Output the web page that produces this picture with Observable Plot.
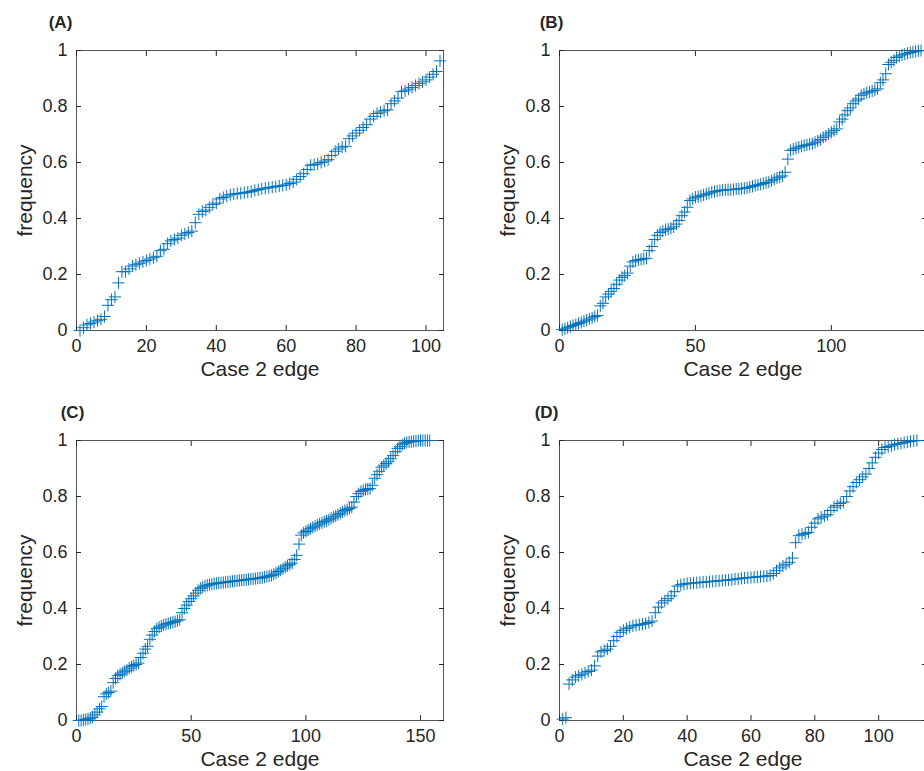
<!DOCTYPE html>
<html><head><meta charset="utf-8">
<script src="https://cdn.jsdelivr.net/npm/d3@7"></script>
<script src="https://cdn.jsdelivr.net/npm/@observablehq/plot@0.6"></script>
<style>
html,body{margin:0;padding:0;background:#fff;overflow:hidden;width:924px;height:771px;}
#root{position:relative;width:924px;height:771px;overflow:hidden;}
.panel{position:absolute;width:460px;height:380px;}
.panel svg{max-width:none !important;width:460px;height:380px;}
</style></head><body><div id="root"></div>
<script>
const panelLabels = ["(A)", "(B)", "(C)", "(D)"];
const xLabel = "Case 2 edge";
const yLabel = "frequency";
const yTicks = [0, 0.2, 0.4, 0.6, 0.8, 1];
const yTickLabels = ["0", "0.2", "0.4", "0.6", "0.8", "1"];
const xTicksA = [0, 20, 40, 60, 80, 100];
const xTicksB = [0, 50, 100];
const xTicksC = [0, 50, 100, 150];
const xTicksD = [0, 20, 40, 60, 80, 100];
const xMaxA = 105, xMaxB = 135, xMaxC = 160, xMaxD = 115;

// frequency for edge 1..N
const freqA = [0.00,0.01,0.02,0.025,0.03,0.035,0.04,0.05,0.09,0.11,
0.12,0.17,0.21,0.21,0.22,0.23,0.235,0.24,0.245,0.25,
0.255,0.26,0.265,0.285,0.29,0.31,0.32,0.325,0.33,0.34,
0.345,0.35,0.355,0.385,0.415,0.425,0.43,0.44,0.45,0.455,
0.47,0.475,0.48,0.485,0.487,0.489,0.49,0.492,0.494,0.496,
0.5,0.503,0.506,0.508,0.51,0.512,0.514,0.516,0.518,0.52,
0.525,0.53,0.54,0.55,0.56,0.575,0.59,0.592,0.595,0.6,
0.605,0.61,0.625,0.64,0.648,0.655,0.658,0.685,0.695,0.705,
0.715,0.725,0.735,0.755,0.765,0.775,0.78,0.785,0.788,0.81,
0.82,0.83,0.853,0.856,0.862,0.868,0.875,0.882,0.888,0.895,
0.905,0.915,0.925,0.963];

const freqB = [0.003,0.006,0.01,0.014,0.018,0.021,0.025,0.029,0.033,0.037,
0.041,0.045,0.05,0.054,0.088,0.097,0.12,0.13,0.14,0.15,
0.165,0.18,0.19,0.196,0.205,0.23,0.245,0.25,0.252,0.254,
0.256,0.258,0.285,0.3,0.325,0.34,0.35,0.355,0.36,0.362,
0.365,0.37,0.38,0.393,0.41,0.423,0.44,0.464,0.47,0.476,
0.478,0.481,0.484,0.487,0.49,0.494,0.496,0.498,0.5,0.501,
0.502,0.503,0.503,0.504,0.505,0.506,0.507,0.508,0.51,0.512,
0.515,0.518,0.52,0.522,0.525,0.528,0.53,0.535,0.54,0.545,
0.548,0.552,0.565,0.612,0.643,0.648,0.651,0.655,0.658,0.661,
0.663,0.665,0.667,0.672,0.677,0.682,0.69,0.695,0.702,0.708,
0.714,0.72,0.745,0.755,0.77,0.785,0.795,0.81,0.82,0.827,
0.84,0.845,0.849,0.852,0.855,0.858,0.863,0.885,0.895,0.917,
0.95,0.958,0.965,0.975,0.98,0.984,0.987,0.99,0.993,0.995,
0.997,0.999,1.0];

const freqC = [0.0,0.0,0.002,0.004,0.006,0.008,0.012,0.02,0.03,0.042,
0.05,0.085,0.095,0.1,0.105,0.135,0.15,0.16,0.165,0.17,
0.176,0.18,0.187,0.192,0.196,0.2,0.205,0.225,0.24,0.255,
0.265,0.29,0.305,0.318,0.328,0.333,0.337,0.341,0.344,0.346,
0.349,0.351,0.353,0.356,0.36,0.385,0.4,0.412,0.425,0.435,
0.445,0.455,0.465,0.472,0.476,0.48,0.483,0.485,0.487,0.489,
0.49,0.491,0.492,0.493,0.494,0.495,0.496,0.497,0.498,0.499,
0.5,0.501,0.502,0.503,0.504,0.505,0.506,0.507,0.508,0.509,
0.51,0.512,0.514,0.516,0.518,0.522,0.527,0.532,0.537,0.542,
0.548,0.553,0.558,0.562,0.575,0.59,0.63,0.662,0.67,0.675,
0.68,0.685,0.69,0.694,0.698,0.702,0.706,0.71,0.713,0.717,
0.722,0.727,0.73,0.735,0.74,0.745,0.75,0.753,0.757,0.762,
0.78,0.8,0.81,0.818,0.822,0.825,0.827,0.828,0.84,0.865,
0.878,0.89,0.905,0.912,0.918,0.924,0.935,0.946,0.96,0.972,
0.978,0.985,0.99,0.993,0.995,0.996,0.997,0.998,0.999,1,
1,1,1,1];

const freqD = [0.005,0.01,0.13,0.145,0.155,0.16,0.165,0.17,0.175,0.18,
0.195,0.23,0.245,0.25,0.255,0.265,0.285,0.3,0.315,0.322,
0.328,0.333,0.338,0.34,0.342,0.344,0.346,0.35,0.355,0.385,
0.405,0.42,0.428,0.435,0.445,0.46,0.48,0.485,0.487,0.489,
0.49,0.491,0.492,0.493,0.494,0.495,0.496,0.497,0.498,0.499,
0.5,0.501,0.502,0.503,0.505,0.506,0.508,0.509,0.51,0.511,
0.512,0.513,0.514,0.515,0.516,0.518,0.525,0.535,0.545,0.552,
0.558,0.565,0.58,0.635,0.66,0.665,0.668,0.672,0.69,0.705,
0.72,0.726,0.73,0.735,0.75,0.762,0.768,0.775,0.78,0.8,
0.82,0.835,0.85,0.86,0.87,0.88,0.9,0.92,0.94,0.955,
0.968,0.975,0.978,0.981,0.985,0.988,0.99,0.993,0.995,0.997,
0.999,1];

const MARK = "#0072BD";
const AX = "#262626";

function panel(values, xMax, xTicks, label, labelDx) {
  const data = values.map((v, i) => ({edge: i + 1, freq: v}));
  return Plot.plot({
    width: 460, height: 380,
    marginLeft: 76, marginRight: 17, marginTop: 50, marginBottom: 50,
    style: {fontFamily: "'Liberation Sans', Arial, sans-serif", fontSize: "18px", color: AX, background: "transparent", overflow: "visible"},
    x: {domain: [0, xMax]},
    y: {domain: [0, 1]},
    marks: [
      Plot.frame({stroke: "#555", strokeWidth: 1}),
      Plot.axisX({ticks: xTicks, tickSize: -5, tickFormat: d => String(d), label: null}),
      Plot.axisX({anchor: "top", ticks: xTicks, tickSize: -5, tickFormat: () => "", label: null}),
      Plot.axisY({ticks: yTicks, tickSize: -5, tickFormat: d => yTickLabels[yTicks.indexOf(d)], label: null}),
      Plot.axisY({anchor: "right", ticks: yTicks, tickSize: -5, tickFormat: () => "", label: null}),
      Plot.dot(data, {x: "edge", y: "freq", symbol: "plus", r: 4, stroke: MARK, strokeWidth: 1}),
      Plot.text([label], {text: d => d, frameAnchor: "top-left", dx: labelDx, dy: -28, textAnchor: "middle", lineAnchor: "middle", fontWeight: "bold", fontSize: 17}),
      Plot.text([xLabel], {text: d => d, frameAnchor: "bottom", dy: 31, textAnchor: "middle", lineAnchor: "top", fontSize: 21}),
      Plot.text([yLabel], {text: d => d, frameAnchor: "left", dx: -51, rotate: -90, textAnchor: "middle", lineAnchor: "middle", fontSize: 21})
    ]
  });
}

const root = document.getElementById("root");
const specs = [
  [freqA, xMaxA, xTicksA, panelLabels[0], -16, 0, 0],
  [freqB, xMaxB, xTicksB, panelLabels[1], -8, 483, 0],
  [freqC, xMaxC, xTicksC, panelLabels[2], -4, 0, 390],
  [freqD, xMaxD, xTicksD, panelLabels[3], -13, 483, 390]
];
for (const [vals, xm, xt, lab, ldx, left, top] of specs) {
  const div = document.createElement("div");
  div.className = "panel";
  div.style.left = left + "px";
  div.style.top = top + "px";
  div.appendChild(panel(vals, xm, xt, lab, ldx));
  root.appendChild(div);
}
</script></body></html>
